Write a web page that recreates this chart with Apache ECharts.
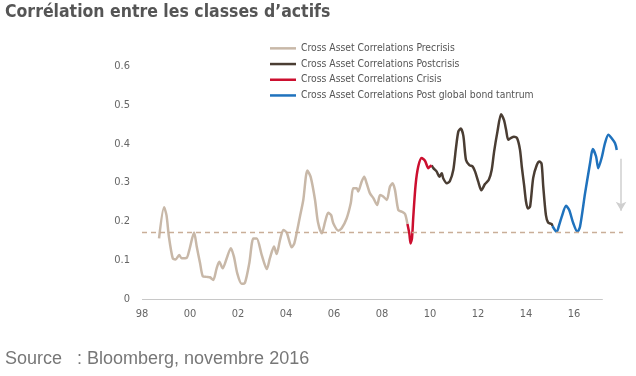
<!DOCTYPE html>
<html>
<head>
<meta charset="utf-8">
<script src="https://cdn.jsdelivr.net/npm/echarts@6/dist/echarts.min.js"></script>
<style>
    html, body { margin: 0; padding: 0; background: #fff; }
    #chart { width: 636px; height: 376px; }
</style>
</head>
<body>
<div id="chart"></div>
<script>
// données : [année, corrélation]
const precrisis = [
    [1998.71, 0.156], [1998.92, 0.236], [1999.02, 0.216], [1999.12, 0.161], [1999.28, 0.105],
    [1999.40, 0.102], [1999.55, 0.113], [1999.65, 0.105], [1999.86, 0.106], [1999.97, 0.126],
    [2000.17, 0.171], [2000.28, 0.135], [2000.42, 0.092], [2000.53, 0.059], [2000.69, 0.057],
    [2000.83, 0.056], [2000.97, 0.049], [2001.11, 0.079], [2001.22, 0.096], [2001.36, 0.079],
    [2001.53, 0.105], [2001.70, 0.131], [2001.83, 0.109], [2001.97, 0.066], [2002.15, 0.039],
    [2002.29, 0.042], [2002.47, 0.092], [2002.64, 0.156], [2002.78, 0.156], [2002.99, 0.113],
    [2003.20, 0.077], [2003.33, 0.105], [2003.50, 0.135], [2003.61, 0.116], [2003.75, 0.152],
    [2003.89, 0.178], [2004.03, 0.171], [2004.24, 0.133], [2004.35, 0.144], [2004.58, 0.212],
    [2004.72, 0.255], [2004.89, 0.331], [2005.03, 0.314], [2005.21, 0.255], [2005.33, 0.198],
    [2005.49, 0.169], [2005.63, 0.199], [2005.76, 0.222], [2005.88, 0.216], [2005.97, 0.195],
    [2006.18, 0.176], [2006.32, 0.182], [2006.53, 0.208], [2006.70, 0.247], [2006.80, 0.285],
    [2006.95, 0.285], [2007.01, 0.277], [2007.15, 0.302], [2007.26, 0.315], [2007.36, 0.298],
    [2007.50, 0.272], [2007.64, 0.260], [2007.80, 0.242], [2007.92, 0.268], [2008.05, 0.264],
    [2008.20, 0.255], [2008.33, 0.289], [2008.44, 0.298], [2008.54, 0.281], [2008.68, 0.229],
    [2008.82, 0.225], [2008.96, 0.219], [2009.06, 0.193]
]
const crisis = [
    [2009.06, 0.193], [2009.14, 0.168], [2009.19, 0.143], [2009.25, 0.157], [2009.30, 0.208],
    [2009.40, 0.294], [2009.51, 0.341], [2009.65, 0.363], [2009.79, 0.356], [2009.93, 0.337],
    [2010.00, 0.341], [2010.07, 0.344]
]
const postcrisis = [
    [2010.07, 0.344], [2010.14, 0.337], [2010.28, 0.328], [2010.39, 0.315], [2010.49, 0.324],
    [2010.55, 0.311], [2010.70, 0.298], [2010.83, 0.304], [2010.97, 0.332], [2011.08, 0.388],
    [2011.18, 0.431], [2011.28, 0.439], [2011.39, 0.420], [2011.50, 0.358], [2011.64, 0.345],
    [2011.78, 0.341], [2011.88, 0.328], [2012.01, 0.302], [2012.14, 0.280], [2012.29, 0.296],
    [2012.45, 0.307], [2012.57, 0.332], [2012.67, 0.379], [2012.81, 0.431], [2012.96, 0.476],
    [2013.08, 0.461], [2013.17, 0.436], [2013.26, 0.410], [2013.38, 0.415], [2013.50, 0.418],
    [2013.63, 0.414], [2013.75, 0.384], [2013.83, 0.338], [2013.92, 0.294], [2014.00, 0.251],
    [2014.08, 0.233], [2014.17, 0.238], [2014.30, 0.312], [2014.45, 0.345], [2014.56, 0.354],
    [2014.65, 0.348], [2014.72, 0.289], [2014.83, 0.216], [2014.92, 0.197], [2015.07, 0.193],
    [2015.10, 0.188]
]
const postTantrum = [
    [2015.10, 0.188], [2015.28, 0.173], [2015.37, 0.188], [2015.49, 0.212], [2015.67, 0.240],
    [2015.80, 0.229], [2015.97, 0.195], [2016.14, 0.173], [2016.25, 0.186], [2016.46, 0.272],
    [2016.67, 0.350], [2016.78, 0.386], [2016.92, 0.367], [2017.01, 0.337], [2017.15, 0.363],
    [2017.29, 0.401], [2017.43, 0.423], [2017.57, 0.414], [2017.71, 0.401], [2017.78, 0.384]
]
const avgLevel = 0.173          // ligne pointillée
const avgRange = [1998, 2018.04]
const baseRange = [1998, 2017.2] // trait de l'axe des x
const arrowYear = 2017.96
const arrowFromTo = [0.361, 0.227]

const xTickYears = [1998, 2000, 2002, 2004, 2006, 2008, 2010, 2012, 2014, 2016]
const xTickLabels = ['98', '00', '02', '04', '06', '08', '10', '12', '14', '16']

const seriesNames = [
    'Cross Asset Correlations Precrisis',
    'Cross Asset Correlations Postcrisis',
    'Cross Asset Correlations Crisis',
    'Cross Asset Correlations Post global bond tantrum'
]

const narrow = '"Liberation Sans Narrow", "DejaVu Sans Condensed", sans-serif'

const chart = echarts.init(document.getElementById('chart'))

const lineSeries = (name, data, color, z) => ({
    name: name,
    type: 'line',
    data: data,
    symbol: 'none',
    smooth: 0.25,
    z: z,
    lineStyle: { color: color, width: 2.5 },
    itemStyle: { color: color }
})

const precrisisSeries = lineSeries(seriesNames[0], precrisis, '#c8b8a8', 3)
precrisisSeries.markLine = {
    silent: true,
    animation: false,
    symbol: 'none',
    label: { show: false },
    data: [
        [{ coord: [avgRange[0], avgLevel], lineStyle: { color: '#c9ae98', width: 1.3, type: [5, 4] } },
         { coord: [avgRange[1], avgLevel] }],
        [{ coord: [baseRange[0], 0], lineStyle: { color: '#c8c8c8', width: 1, type: 'solid' } },
         { coord: [baseRange[1], 0] }]
    ]
}

const tantrumSeries = lineSeries(seriesNames[3], postTantrum, '#1f72bd', 4)
tantrumSeries.markLine = {
    silent: true,
    animation: false,
    symbol: ['none', 'arrow'],
    symbolSize: [8, 9],
    label: { show: false },
    data: [
        [{ coord: [arrowYear, arrowFromTo[0]], lineStyle: { color: '#cfcfcf', width: 1.5, type: 'solid' } },
         { coord: [arrowYear, arrowFromTo[1]] }]
    ]
}

const option = {
    animation: false,
    title: [
        {
            text: 'Corrélation entre les classes d’actifs',
            left: 5,
            top: 3,
            padding: 0,
            textStyle: { fontFamily: narrow, fontWeight: 'bold', fontSize: 17.5, color: '#555' }
        },
        {
            text: 'Source   : Bloomberg, novembre 2016',
            left: 5,
            top: 350,
            padding: 0,
            textStyle: { fontFamily: '"Liberation Sans", sans-serif', fontWeight: 'normal', fontSize: 18, color: '#777' }
        }
    ],
    legend: {
        orient: 'vertical',
        left: 270,
        top: 42,
        padding: 0,
        icon: 'rect',
        itemWidth: 26,
        itemHeight: 2.5,
        itemGap: 3,
        itemStyle: { borderWidth: 0 },
        itemTextGap: 2,
        textStyle: { fontFamily: narrow, fontSize: 10.3, color: '#555', lineHeight: 12.7 },
        data: seriesNames
    },
    grid: {
        left: 142,
        top: 66,
        width: 492,
        height: 233,
        outerBoundsMode: 'none'
    },
    xAxis: {
        type: 'value',
        min: 1998,
        max: 2018.5,
        interval: 2,
        axisLine: { show: false },
        axisTick: { show: false },
        splitLine: { show: false },
        axisLabel: {
            margin: 10,
            fontFamily: narrow,
            fontSize: 11,
            color: '#666',
            formatter: v => {
                const i = xTickYears.indexOf(v)
                return i < 0 ? '' : xTickLabels[i]
            }
        }
    },
    yAxis: {
        type: 'value',
        min: 0,
        max: 0.6,
        interval: 0.1,
        axisLine: { show: false },
        axisTick: { show: false },
        splitLine: { show: false },
        axisLabel: {
            margin: 12,
            fontFamily: narrow,
            fontSize: 11,
            color: '#666',
            formatter: v => (v === 0 ? '0' : v.toFixed(1))
        }
    },
    series: [
        precrisisSeries,
        lineSeries(seriesNames[1], postcrisis, '#4a3d33', 3),
        lineSeries(seriesNames[2], crisis, '#cc0f2f', 4),
        tantrumSeries
    ]
}

chart.setOption(option)
</script>
</body>
</html>
